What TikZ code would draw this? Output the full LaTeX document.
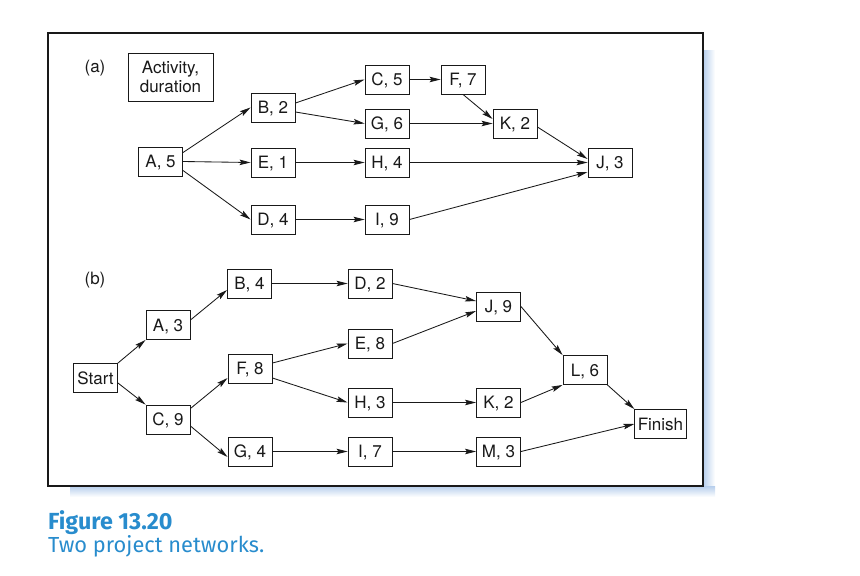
\documentclass[tikz,border=0pt]{standalone}
\usepackage{fontspec}
\setmainfont{TeX Gyre Heros}
\newfontfamily\capfont{Fira Sans}
\usetikzlibrary{arrows.meta}
\definecolor{capblue}{RGB}{40,140,205}
\definecolor{shadowblue}{RGB}{182,206,236}
\definecolor{ink}{RGB}{25,25,25}
\begin{document}
\begin{tikzpicture}[x=1pt,y=-1pt,
  box/.style={draw=ink,line width=0.9pt,rectangle,minimum width=44pt,minimum height=29pt,inner sep=3pt,
    text height=12.2pt,text depth=0pt,font=\fontsize{17}{18.5}\selectfont,text=ink},
  actbox/.style={draw=ink,line width=0.9pt,rectangle,minimum width=85pt,minimum height=48pt,inner sep=3pt,
    align=center,font=\fontsize{17}{19}\selectfont,text=ink},
  arr/.style={draw=ink,line width=0.85pt,-{Stealth[length=11pt,width=5.5pt,inset=2pt]}},
  lbl/.style={font=\fontsize{17}{18.5}\selectfont,text=ink}]
\useasboundingbox (0,0) rectangle (860,576);
% shadow
\shade[left color=shadowblue,right color=white] (703,50) rectangle (715,497);
\shade[top color=shadowblue,bottom color=white] (70,486) rectangle (715,497);
% frame
\draw[draw=ink,line width=2pt,fill=white] (48,33) rectangle (703,486);
% (a)
\node[lbl] (la) at (95,68) {(a)};
\node[actbox] (act) at (170.5,77) {Activity,\\duration};
\node[box] (A) at (160.5,161.5) {A, 5};
\node[box] (B) at (273,107.5) {B, 2};
\node[box] (E) at (273,162.5) {E, 1};
\node[box] (D) at (273,219.5) {D, 4};
\node[box] (C) at (387,79.5) {C, 5};
\node[box] (F) at (463,79.5) {F, 7};
\node[box] (G) at (387,123.5) {G, 6};
\node[box] (K) at (515,123.5) {K, 2};
\node[box] (H) at (387,162.5) {H, 4};
\node[box] (I) at (387,219.5) {I, 9};
\node[box] (J) at (610,162.5) {J, 3};
\draw[arr] ([yshift=-6pt]A.north east) -- (B.west);
\draw[arr] (A.east) -- (E.west);
\draw[arr] ([yshift=6pt]A.south east) -- (D.west);
\draw[arr] ([yshift=4.5pt]B.east) -- (C.west);
\draw[arr] ([yshift=-4.5pt]B.east) -- (G.west);
\draw[arr] (C.east) -- (F.west);
\draw[arr] (F.south) -- ([yshift=4.5pt]K.west);
\draw[arr] (G.east) -- (K.west);
\draw[arr] ([yshift=-3.5pt]K.east) -- ([yshift=3.5pt]J.west);
\draw[arr] (E.east) -- (H.west);
\draw[arr] (H.east) -- (J.west);
\draw[arr] (D.east) -- (I.west);
\draw[arr] (I.east) -- ([yshift=-9.5pt]J.west);
% (b)
\node[lbl] (lb) at (95,280) {(b)};
\node[box] (S) at (95.5,378) {Start};
\node[box] (A2) at (168,325) {A, 3};
\node[box] (B2) at (249.5,283.5) {B, 4};
\node[box] (C2) at (168,419.5) {C, 9};
\node[box] (F2) at (250,368.5) {F, 8};
\node[box] (G2) at (250,451.5) {G, 4};
\node[box] (D2) at (370,283.5) {D, 2};
\node[box] (E2) at (370,343.5) {E, 8};
\node[box] (H2) at (370,402.5) {H, 3};
\node[box] (I2) at (370,451.5) {I, 7};
\node[box] (J2) at (498.5,306.5) {J, 9};
\node[box] (K2) at (498.5,402.5) {K, 2};
\node[box] (M2) at (498.5,451.5) {M, 3};
\node[box] (L2) at (585,370) {L, 6};
\node[box] (Fin) at (660.5,424) {Finish};
\draw[arr] (S.north east) -- (A2.south west);
\draw[arr] ([yshift=-5pt]S.east) -- (C2.north west);
\draw[arr] ([yshift=5pt]A2.east) -- ([yshift=-6.5pt]B2.west);
\draw[arr] (B2.east) -- (D2.west);
\draw[arr] ([yshift=11pt]C2.east) -- ([yshift=-9.5pt]F2.west);
\draw[arr] ([yshift=-6.5pt]C2.east) -- ([yshift=-5.5pt]G2.west);
\draw[arr] ([yshift=5.5pt]F2.east) -- (E2.west);
\draw[arr] ([yshift=-9.5pt]F2.east) -- (H2.west);
\draw[arr] (G2.east) -- (I2.west);
\draw[arr] (D2.east) -- ([yshift=5.5pt]J2.west);
\draw[arr] (E2.east) -- ([yshift=-4.5pt]J2.west);
\draw[arr] (J2.east) -- (L2.north west);
\draw[arr] (H2.east) -- (K2.west);
\draw[arr] (K2.east) -- (L2.south west);
\draw[arr] (I2.east) -- (M2.west);
\draw[arr] (M2.east) -- (Fin.west);
\draw[arr] (L2.south east) -- (Fin.north west);
% caption
\node[anchor=base west,inner sep=0pt,text=capblue,font=\capfont\bfseries\fontsize{23.3}{25}\selectfont] (cap1) at (48,529) {Figure 13.20};
\node[anchor=base west,inner sep=0pt,text=capblue,font=\capfont\fontsize{21.8}{25}\selectfont] (cap2) at (48,552) {Two project networks.};
\end{tikzpicture}
\end{document}
